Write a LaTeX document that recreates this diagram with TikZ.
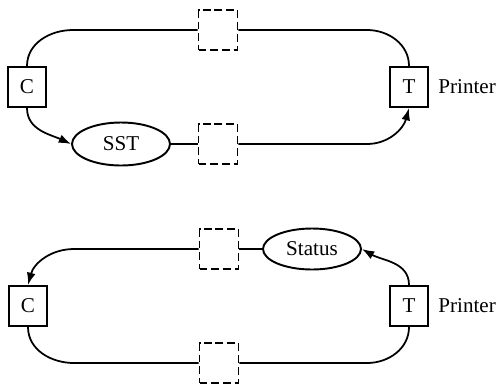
\documentclass[tikz,border=0pt]{standalone}
\usepackage{fontspec}
\setmainfont{Liberation Serif}
\usetikzlibrary{arrows.meta,shapes.geometric,positioning,calc}

\begin{document}
\begin{tikzpicture}[
    font=\fontsize{12}{14}\selectfont,
    station/.style={draw, line width=1.2pt, minimum width=0.76cm, minimum height=0.8cm, inner sep=0pt},
    slot/.style={draw, line width=1.1pt, dash pattern=on 4.5pt off 2.2pt, minimum width=0.78cm, minimum height=0.8cm, inner sep=0pt},
    msg/.style={draw, ellipse, line width=1.1pt, minimum width=1.96cm, minimum height=0.86cm, inner sep=0pt},
    wire/.style={line width=1pt},
    arr/.style={wire, -{Latex[length=7pt,width=5pt]}}
]
\useasboundingbox (0,0) rectangle (10,-7.7);

% upper ring
\node[station] (c1) at (0.54,-1.74) {C};
\node[station] (t1) at (8.18,-1.74) {T};
\node[right=0.18cm of t1, inner sep=0pt] (p1) {Printer};
\node[slot] (d1) at (4.36,-0.60) {};
\node[slot] (d2) at (4.36,-2.88) {};
\node[msg] (sst) at (2.42,-2.88) {SST};

\draw[wire] (c1.north) to[out=90,in=180] ($(c1.north |- d1.west)+(0.92,0)$) -- (d1.west);
\draw[wire] (d1.east) -- ($(t1.north |- d1.east)+(-0.84,0)$) to[out=0,in=90] (t1.north);
\draw[arr] (c1.south) to[out=-90,in=155] (sst.west);
\draw[wire] (sst.east) -- (d2.west);
\draw[arr] (d2.east) -- ($(t1.south |- d2.east)+(-0.84,0)$) to[out=0,in=-105] (t1.south);

% lower ring
\node[station] (c2) at (0.56,-6.12) {C};
\node[station] (t2) at (8.18,-6.12) {T};
\node[right=0.18cm of t2, inner sep=0pt] (p2) {Printer};
\node[slot] (d3) at (4.38,-4.98) {};
\node[slot] (d4) at (4.38,-7.26) {};
\node[msg, minimum height=0.82cm] (st) at (6.24,-4.98) {Status};

\draw[arr] (d3.west) -- ($(c2.north |- d3.west)+(0.92,0)$) to[out=180,in=75] (c2.north);
\draw[wire] (d3.east) -- (st.west);
\draw[arr] (t2.north) to[out=90,in=-30] (st.east);
\draw[wire] (c2.south) to[out=-90,in=180] ($(c2.south |- d4.west)+(0.92,0)$) -- (d4.west);
\draw[wire] (d4.east) -- ($(t2.south |- d4.east)+(-0.84,0)$) to[out=0,in=-90] (t2.south);
\end{tikzpicture}
\end{document}
